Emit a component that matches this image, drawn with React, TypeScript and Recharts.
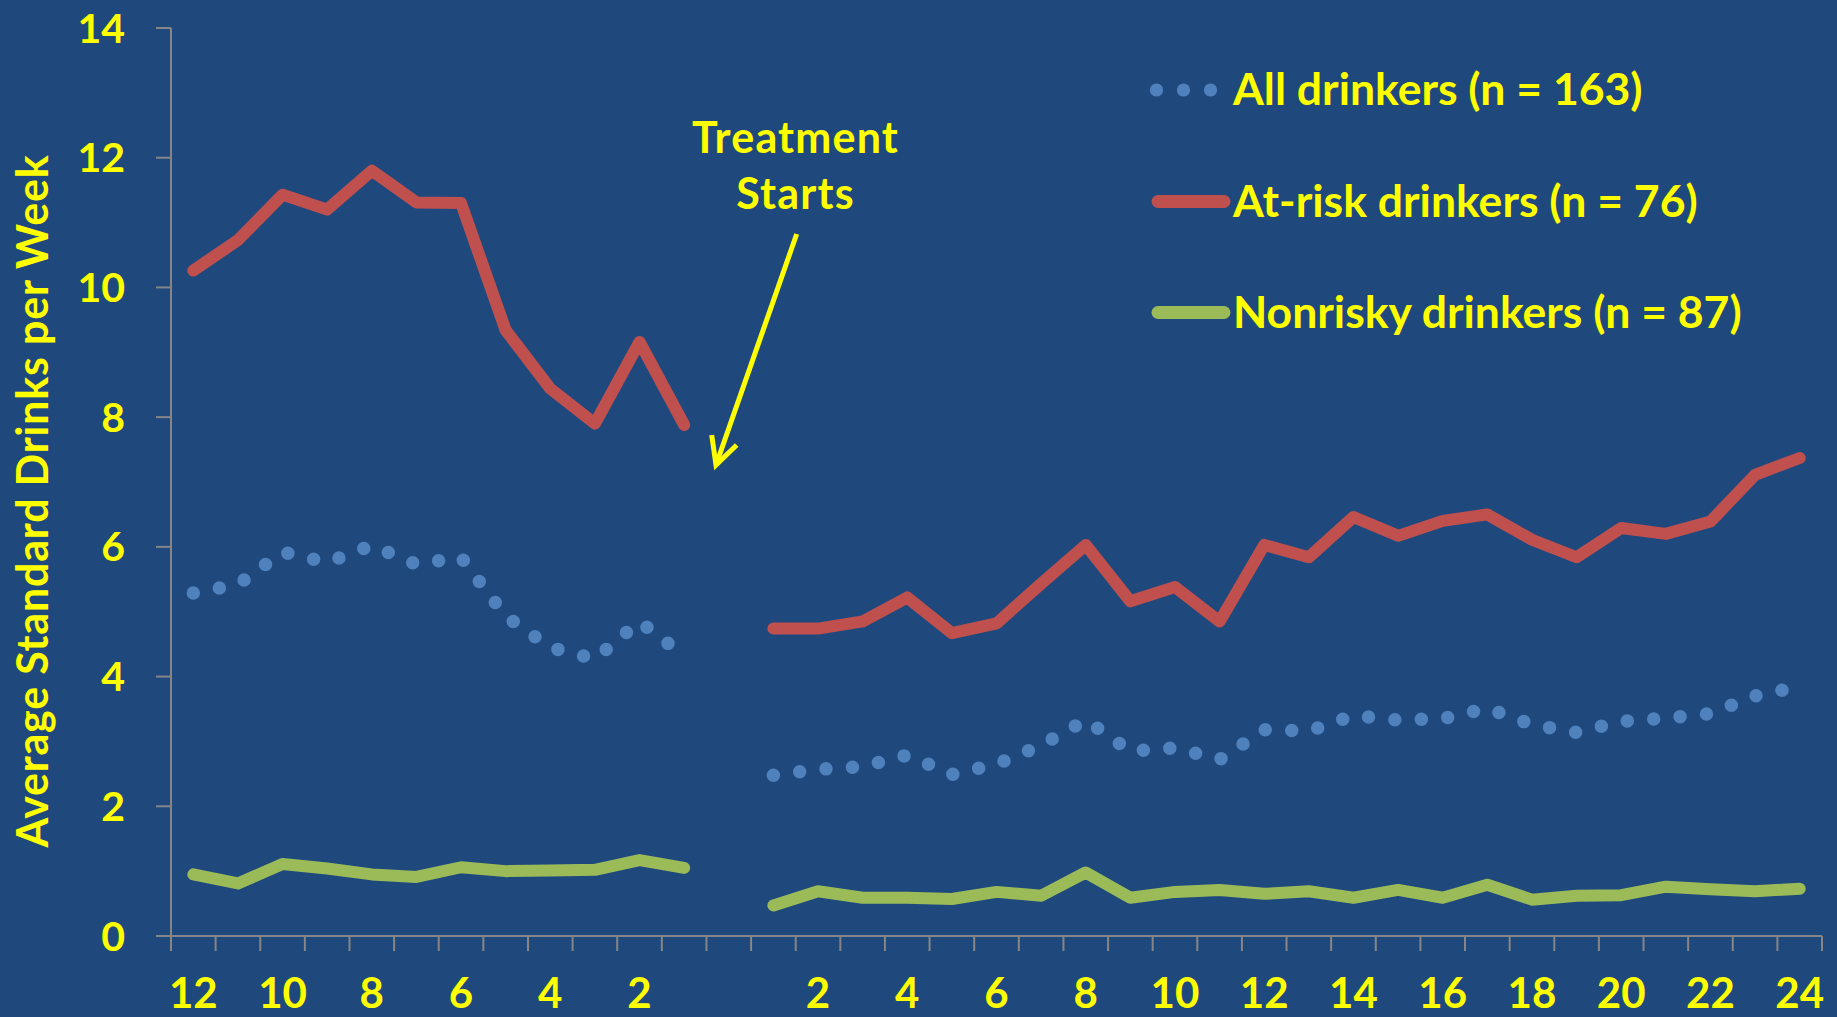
import { LineChart, Line, XAxis, YAxis, Legend } from "recharts";

// weeks before treatment (counting down) and after treatment starts
const PRE_WEEKS = [12, 11, 10, 9, 8, 7, 6, 5, 4, 3, 2, 1];
const POST_WEEKS = [
  1, 2, 3, 4, 5, 6, 7, 8, 9, 10, 11, 12, 13, 14, 15, 16, 17, 18, 19, 20, 21, 22, 23, 24,
];

const ALL_PRE = [5.29, 5.42, 5.92, 5.76, 6.02, 5.73, 5.84, 4.93, 4.45, 4.27, 4.85, 4.32];
const ALL_POST = [
  2.48, 2.57, 2.61, 2.79, 2.49, 2.65, 2.94, 3.33, 2.85, 2.9, 2.72, 3.18, 3.16, 3.4, 3.33, 3.35,
  3.51, 3.26, 3.14, 3.31, 3.36, 3.43, 3.7, 3.85,
];

const ATRISK_PRE = [10.26, 10.73, 11.43, 11.2, 11.8, 11.31, 11.3, 9.34, 8.44, 7.9, 9.16, 7.88];
const ATRISK_POST = [
  4.74, 4.74, 4.85, 5.22, 4.67, 4.82, 5.43, 6.03, 5.16, 5.38, 4.85, 6.03, 5.84, 6.46, 6.17, 6.4,
  6.5, 6.11, 5.84, 6.29, 6.2, 6.39, 7.11, 7.37,
];

const NONRISKY_PRE = [0.95, 0.81, 1.11, 1.04, 0.95, 0.91, 1.06, 1.0, 1.01, 1.02, 1.17, 1.05];
const NONRISKY_POST = [
  0.47, 0.69, 0.59, 0.59, 0.57, 0.68, 0.62, 0.98, 0.59, 0.68, 0.71, 0.65, 0.69, 0.59, 0.71, 0.59,
  0.79, 0.56, 0.62, 0.63, 0.76, 0.72, 0.69, 0.73,
];

const Y_TICKS = [0, 2, 4, 6, 8, 10, 12, 14];

const SERIES = [
  { key: "all", name: "All drinkers (n = 163)", color: "#4F81BD", dotted: true },
  { key: "atRisk", name: "At-risk drinkers (n = 76)", color: "#C0504D", dotted: false },
  { key: "nonRisky", name: "Nonrisky drinkers (n = 87)", color: "#9BBB59", dotted: false },
];

const BG = "#1F497D";
const YELLOW = "#FFFF00";
const AXIS = "#868686";
const FONT = "Lato, 'Open Sans', sans-serif";

// one slot per week, plus an empty slot where treatment starts
type Row = { pos: number; week: number | null; all: number | null; atRisk: number | null; nonRisky: number | null };
const rows: Row[] = [];
PRE_WEEKS.forEach((w, i) =>
  rows.push({ pos: rows.length + 0.5, week: w, all: ALL_PRE[i], atRisk: ATRISK_PRE[i], nonRisky: NONRISKY_PRE[i] })
);
rows.push({ pos: rows.length + 0.5, week: null, all: null, atRisk: null, nonRisky: null });
POST_WEEKS.forEach((w, i) =>
  rows.push({ pos: rows.length + 0.5, week: w, all: ALL_POST[i], atRisk: ATRISK_POST[i], nonRisky: NONRISKY_POST[i] })
);

const SLOTS = rows.length;
const labelAt = new Map<number, string>();
rows.forEach((r) => {
  if (r.week !== null && r.week % 2 === 0) labelAt.set(r.pos, String(r.week));
});
// tick marks sit between weeks, labels at the week centres
const X_TICKS = [...Array.from({ length: SLOTS + 1 }, (_, i) => i), ...labelAt.keys()];

function XTick(props: any) {
  const { x, y, payload } = props;
  const v = payload.value as number;
  if (Number.isInteger(v)) {
    return <line x1={x} x2={x} y1={y} y2={y + 15} stroke={AXIS} strokeWidth={2} />;
  }
  const text = labelAt.get(v);
  if (!text) return <g />;
  return (
    <text x={x} y={y + 72} textAnchor="middle" fill={YELLOW} fontFamily={FONT} fontWeight={700} fontSize={42}>
      {text}
    </text>
  );
}

function LegendBox() {
  const rowY = [90, 201.5, 312.5];
  return (
    <svg width={737} height={360}>
      {SERIES.map((s, i) => (
        <g key={s.key}>
          {s.dotted ? (
            [56.5, 83.5, 110.5].map((cx) => <circle key={cx} cx={cx} cy={rowY[i]} r={6.6} fill={s.color} />)
          ) : (
            <line x1={58} x2={124} y1={rowY[i]} y2={rowY[i]} stroke={s.color} strokeWidth={13} strokeLinecap="round" />
          )}
          <text x={133} y={rowY[i] + 15} fill={YELLOW} fontFamily={FONT} fontWeight={700} fontSize={44.5}>
            {s.name}
          </text>
        </g>
      ))}
    </svg>
  );
}

export default function App() {
  return (
    <div style={{ position: "fixed", left: 0, top: 0, width: 1837, height: 1017, background: BG }}>
      <LineChart width={1837} height={1017} data={rows} margin={{ top: 28, right: 15, bottom: 0, left: 0 }}>
        <XAxis
          dataKey="pos"
          type="number"
          domain={[0, SLOTS]}
          ticks={X_TICKS}
          interval={0}
          height={81}
          tickSize={0}
          tickMargin={0}
          tickLine={false}
          axisLine={{ stroke: AXIS, strokeWidth: 2 }}
          tick={<XTick />}
        />
        <YAxis
          domain={[0, 14]}
          ticks={Y_TICKS}
          width={171}
          tickSize={15}
          tickMargin={31}
          axisLine={{ stroke: AXIS, strokeWidth: 2 }}
          tickLine={{ stroke: AXIS, strokeWidth: 2 }}
          tick={{ fill: YELLOW, fontFamily: FONT, fontWeight: 700, fontSize: 41 }}
        />
        <Legend
          layout="vertical"
          align="center"
          verticalAlign="middle"
          wrapperStyle={{ top: 0, left: 1100, width: 737, height: 360 }}
          content={() => <LegendBox />}
        />
        {SERIES.map((s) => (
          <Line
            key={s.key}
            dataKey={s.key}
            name={s.name}
            type="linear"
            stroke={s.color}
            strokeWidth={s.dotted ? 13.5 : 12}
            strokeDasharray={s.dotted ? "0 26.5" : undefined}
            strokeLinecap="round"
            strokeLinejoin="round"
            dot={false}
            activeDot={false}
            isAnimationActive={false}
          />
        ))}
      </LineChart>
      <svg width={1837} height={1017} style={{ position: "absolute", left: 0, top: 0, pointerEvents: "none" }}>
        <text
          transform="translate(48,501) rotate(-90)"
          textAnchor="middle"
          fill={YELLOW}
          fontFamily={FONT}
          fontWeight={700}
          fontSize={43}
          letterSpacing={0.8}
        >
          Average Standard Drinks per Week
        </text>
        <text textAnchor="middle" fill={YELLOW} fontFamily={FONT} fontWeight={700} fontSize={43} letterSpacing={1.2}>
          <tspan x={795.5} y={152.7}>Treatment</tspan>
          <tspan x={795.5} y={209.3}>Starts</tspan>
        </text>
        <line x1={796.7} y1={234} x2={716} y2={465} stroke={YELLOW} strokeWidth={5} />
        <polyline points="711.7,435 716,465 736.7,445" fill="none" stroke={YELLOW} strokeWidth={5} />
      </svg>
    </div>
  );
}
